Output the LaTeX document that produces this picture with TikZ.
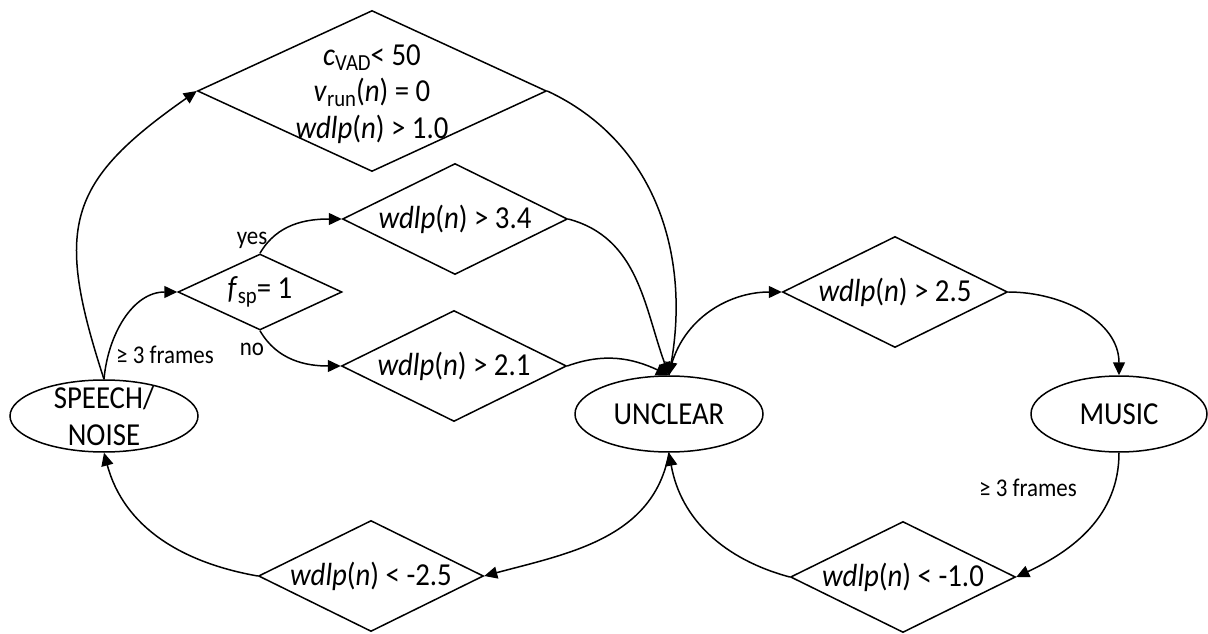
\documentclass[tikz,border=0pt]{standalone}
\usepackage{fontspec}
\setmainfont{Carlito}[FakeStretch=0.9]
\usetikzlibrary{shapes.geometric, arrows.meta}

\tikzset{
  decision/.style={draw, diamond, inner sep=0pt, minimum width=225pt, minimum height=111pt},
  klass/.style={draw, ellipse, inner sep=0pt, minimum width=188pt, minimum height=76pt},
  every label/.style={align=center, inner sep=0pt},
  small/.style={font=\fontsize{25.5}{30}\selectfont}
}
\newcommand{\wdlp}{\textit{wdlp}(\textit{n})}
\newcommand{\lowidx}[1]{\raisebox{-5pt}{\fontsize{23}{23}\selectfont #1}}

\begin{document}
\begin{tikzpicture}[x=1pt, y=1pt, line width=1.5pt, >={Triangle[length=13pt, width=12pt]},
  font=\fontsize{32}{36.5}\selectfont]
\useasboundingbox (0,0) rectangle (1208,633);
% classes
\node[klass, minimum height=72pt, label=center:{SPEECH/\\NOISE}] (sn) at (104,217) {};
\node[klass, label=center:UNCLEAR] (un) at (669,219) {};
\node[klass, minimum width=176pt, label=center:MUSIC] (mu) at (1119,219) {};
% conditions
\node[decision, minimum width=349pt, minimum height=161pt,
  label={[yshift=-3pt]center:{\textit{c}\lowidx{VAD}< 50\\\textit{v}\lowidx{run}(\textit{n}) = 0\\\wdlp{} > 1.0}}] (c1) at (372,542) {};
\node[decision, minimum width=164pt, minimum height=76pt, label=center:{\textit{f}\lowidx{sp}= 1}] (fsp) at (260,341) {};
\node[decision, label=center:{\wdlp{} > 3.4}] (c2) at (455,414) {};
\node[decision, label=center:{\wdlp{} > 2.1}] (c3) at (454,267) {};
\node[decision, label=center:{\wdlp{} > 2.5}] (c4) at (895,341) {};
\node[decision, label=center:{\wdlp{} < -2.5}] (c5) at (371,57) {};
\node[decision, label=center:{\wdlp{} < -1.0}] (c6) at (903,56) {};
% texts
\node[small] (yes) at (252,393) {yes};
\node[small] (no) at (252,284) {no};
\node[small] (fr1) at (165,278) {≥ 3 frames};
\node[small] (fr2) at (1028,145) {≥ 3 frames};
% speech/noise -> unclear
\draw [->] (sn.north) to[out=108, in=215, looseness=1.35] (c1.west);
\draw [->] (sn.north) to[out=85, in=180] (fsp.west);
\draw [->] (fsp.north) to[out=60, in=180] (c2.west);
\draw [->] (fsp.south) to[out=-60, in=180] (c3.west);
\draw [->] (c1.east) to[out=-25, in=80] (un.north);
\draw [->] (c2.east) to[out=-15, in=110] (un.north);
\draw [->] (c3.east) to[out=20, in=155] (un.north);
% unclear -> music
\draw [->] (un.north) to[out=80, in=180] (c4.west);
\draw [->] (c4.east) to[out=0, in=90] (mu.north);
% back
\draw [->] (mu.south) to[out=-90, in=25] (c6.east);
\draw [->] (c6.west) to[out=165, in=-80] (un.south);
\draw [->] (un.south) to[out=-100, in=15] (c5.east);
\draw [->] (c5.west) to[out=170, in=-75] (sn.south);
\end{tikzpicture}
\end{document}
